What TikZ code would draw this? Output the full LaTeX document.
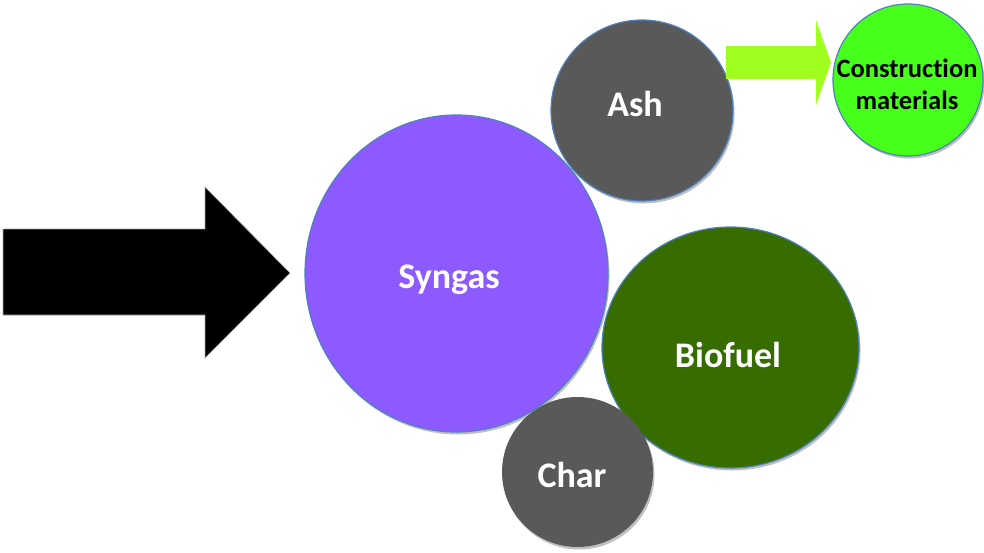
\documentclass[tikz,border=0pt]{standalone}
\usepackage{fontspec}
\setmainfont[Ligatures=NoCommon]{Carlito}
\usetikzlibrary{shapes.geometric,shadows}
\definecolor{synpurple}{RGB}{141,90,255}
\definecolor{ashgray}{RGB}{89,89,89}
\definecolor{biogreen}{RGB}{55,108,0}
\definecolor{congreen}{RGB}{70,255,26}
\definecolor{limearrow}{RGB}{160,255,30}
\definecolor{rimblue}{RGB}{79,129,189}
\tikzset{
  blob/.style={ellipse, inner sep=0pt, draw=rimblue, line width=1.2pt,
    drop shadow={shadow xshift=1.5pt, shadow yshift=-2.5pt, opacity=0.25, fill=black}},
  noedge/.style={draw=none},
  bigtext/.style={anchor=base, inner sep=0pt, font=\bfseries\fontsize{36}{40}\selectfont, text=white},
  smalltext/.style={anchor=base, inner sep=0pt, font=\bfseries\fontsize{26.5}{32}\selectfont, text=black}
}
\begin{document}
\begin{tikzpicture}[x=1pt,y=-1pt]
\useasboundingbox (0,0) rectangle (984,552);
% input arrow
\fill[black, draw=gray!70, line width=0.6pt]
  (3,229) -- (205,229) -- (205,187) -- (290,273) -- (205,358) -- (205,315) -- (3,315) -- cycle;
% circles
\node[blob, fill=synpurple, minimum width=303pt, minimum height=317pt] (syngas) at (456.5,273.5) {};
\node[bigtext] (syngasT) at (449,288) {Syngas};
\node[blob, fill=ashgray, minimum width=182pt, minimum height=181pt] (ash) at (642,110.5) {};
\node[bigtext] (ashT) at (635,116) {Ash};
\node[blob, fill=biogreen, minimum width=257pt, minimum height=241pt] (biofuel) at (730.5,347.5) {};
\node[bigtext] (biofuelT) at (728,367) {Biofuel};
\node[blob, noedge, fill=ashgray, minimum width=151pt, minimum height=150pt] (char) at (577.5,472) {};
\node[bigtext] (charT) at (572,487) {Char};
\node[blob, fill=congreen, minimum width=150pt, minimum height=152pt] (cons) at (908,80) {};
\node[smalltext] (consT1) at (907,77) {Construction};
\node[smalltext] (consT2) at (907,109) {materials};
% ash -> construction arrow
\fill[limearrow]
  (726,46) -- (816,46) -- (816,20) -- (831,62.5) -- (816,105) -- (816,79) -- (726,79) -- cycle;
\end{tikzpicture}
\end{document}
